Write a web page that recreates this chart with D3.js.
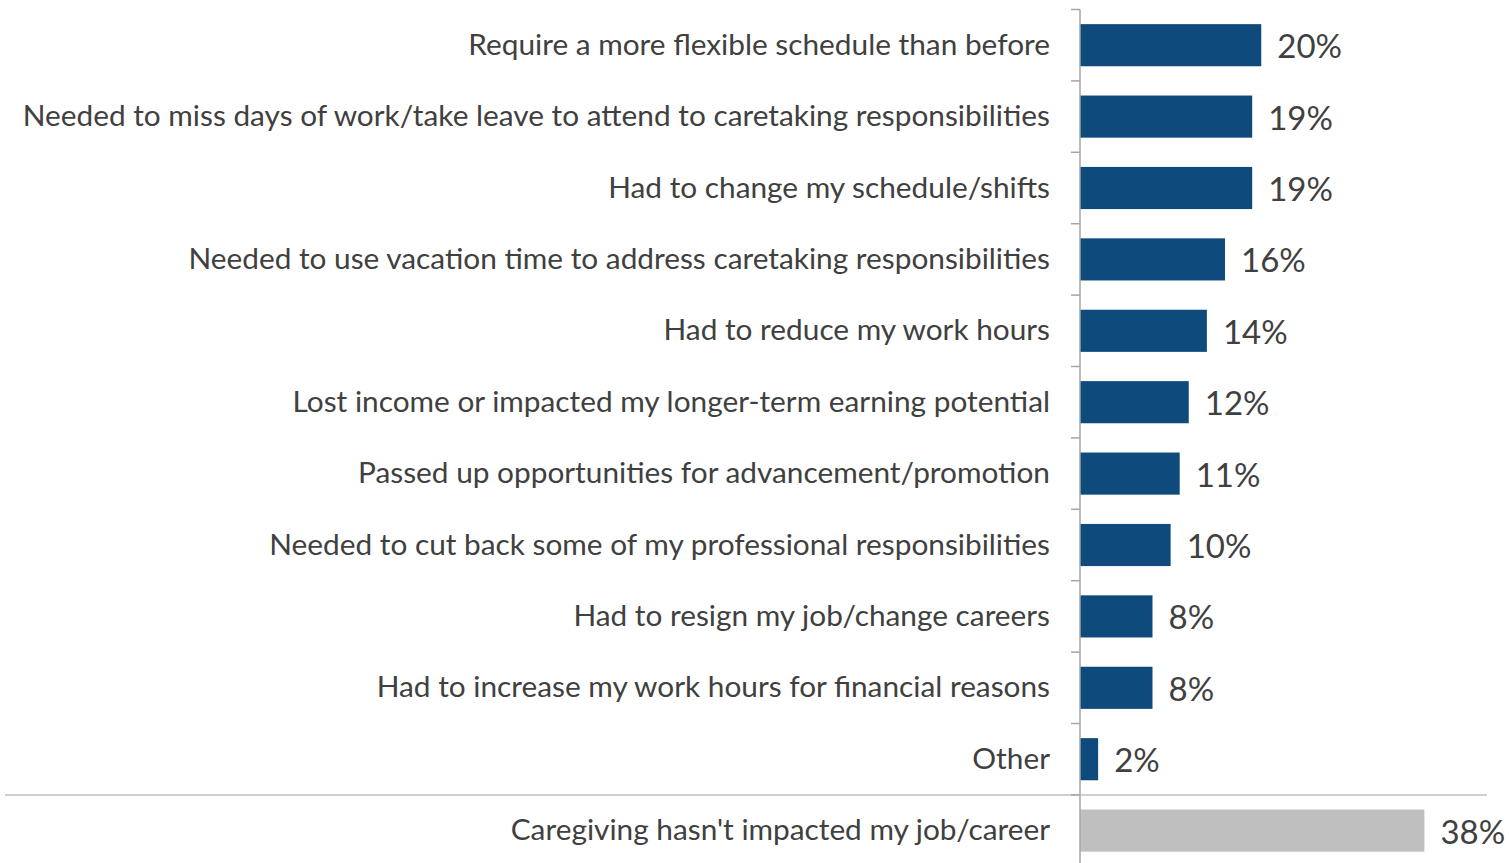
<!DOCTYPE html>
<html>
<head>
<meta charset="utf-8">
<script src="https://cdn.jsdelivr.net/npm/d3@7"></script>
<style>
html,body{margin:0;padding:0;background:#fff;}
svg{display:block;}
</style>
</head>
<body>
<svg id="chart" width="1509" height="863"></svg>
<script>
const categories = [
  "Require a more flexible schedule than before",
  "Needed to miss days of work/take leave to attend to caretaking responsibilities",
  "Had to change my schedule/shifts",
  "Needed to use vacation time to address caretaking responsibilities",
  "Had to reduce my work hours",
  "Lost income or impacted my longer-term earning potential",
  "Passed up opportunities for advancement/promotion",
  "Needed to cut back some of my professional responsibilities",
  "Had to resign my job/change careers",
  "Had to increase my work hours for financial reasons",
  "Other",
  "Caregiving hasn't impacted my job/career"
];
const values = [20, 19, 19, 16, 14, 12, 11, 10, 8, 8, 2, 38];
const valueLabels = ["20%","19%","19%","16%","14%","12%","11%","10%","8%","8%","2%","38%"];
const highlightGroup = ["impact","impact","impact","impact","impact","impact","impact","impact","impact","impact","impact","none"];

const svg = d3.select("#chart");
const axisX = 1080;
const x = d3.scaleLinear().domain([0, 40]).range([axisX, axisX + 362.5]);
const y = d3.scaleBand().domain(categories).range([9.5, 9.5 + 71.4 * 12]).paddingInner(0.41).paddingOuter(0.205);

const fontFam = "Lato, 'Open Sans', sans-serif";
const textColor = "#404040";

// bars
svg.append("g").selectAll("rect").data(categories).join("rect")
  .attr("x", x(0))
  .attr("y", d => y(d))
  .attr("width", (d,i) => x(values[i]) - x(0))
  .attr("height", y.bandwidth())
  .attr("fill", (d,i) => highlightGroup[i] === "none" ? "#BFBFBF" : "#0E4A7B");

// separator line
const sepY = 9.5 + 71.4 * 11;
svg.append("line").attr("x1", 5).attr("x2", 1487).attr("y1", sepY).attr("y2", sepY)
  .attr("stroke", "#BFBFBF").attr("stroke-width", 1.5);

// axis
const axisG = svg.append("g");
axisG.append("line").attr("x1", axisX).attr("x2", axisX).attr("y1", 9.5).attr("y2", 863)
  .attr("stroke", "#A6A6A6").attr("stroke-width", 1.5);
const tickYs = d3.range(12).map(i => 9.5 + i * 71.4);
axisG.selectAll("line.tick").data(tickYs).join("line").attr("class","tick")
  .attr("x1", axisX - 9).attr("x2", axisX).attr("y1", d => d).attr("y2", d => d)
  .attr("stroke", "#A6A6A6").attr("stroke-width", 1.5);

// category labels
const labels = svg.append("g").selectAll("text").data(categories).join("text")
  .attr("x", 1050)
  .attr("y", d => y(d) + y.bandwidth()/2 - 2)
  .attr("text-anchor", "end")
  .attr("dominant-baseline", "central")
  .attr("font-family", fontFam)
  .attr("font-size", 27)
  .attr("fill", textColor)
  .text(d => d);

// fit font size so longest label width ~1028
let maxW = 0;
labels.each(function(){ maxW = Math.max(maxW, this.getComputedTextLength()); });
const fs = 27 * 1028 / maxW;
labels.attr("font-size", fs);

// value labels
svg.append("g").selectAll("text").data(categories).join("text")
  .attr("x", (d,i) => x(values[i]) + 16)
  .attr("y", d => y(d) + y.bandwidth()/2)
  .attr("dominant-baseline", "central")
  .attr("font-family", fontFam)
  .attr("font-size", 33)
  .attr("fill", textColor)
  .text((d,i) => valueLabels[i]);
</script>
</body>
</html>
